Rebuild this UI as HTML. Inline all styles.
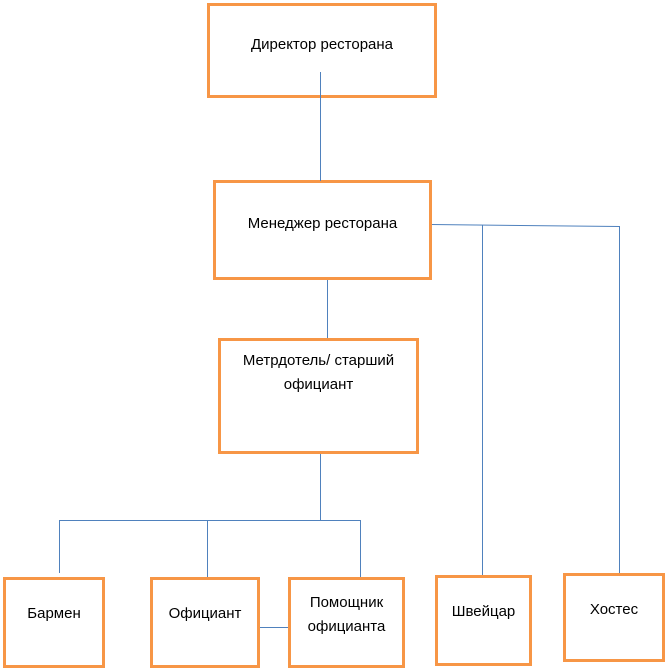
<!DOCTYPE html>
<html><head><meta charset="utf-8"><style>
body{margin:0;background:#fff;width:667px;height:672px;overflow:hidden;position:relative;font-family:"Liberation Sans",sans-serif;font-size:15px;color:#000}
.b{position:absolute;box-sizing:border-box;border:3px solid #F79646;background:#fff}
.t{position:absolute;left:0;right:0;text-align:center;line-height:24px}
svg{position:absolute;left:0;top:0}
</style></head><body>
<svg width="667" height="672">
<g stroke="#4F81BD" stroke-width="1" fill="none">
<line x1="327.5" y1="279" x2="327.5" y2="339"/>
<line x1="431" y1="224.5" x2="619" y2="226.5"/>
<line x1="482.5" y1="225" x2="482.5" y2="576"/>
<line x1="619.5" y1="226" x2="619.5" y2="574"/>
<line x1="320.5" y1="453" x2="320.5" y2="520"/>
<line x1="59" y1="520.5" x2="360" y2="520.5"/>
<line x1="59.5" y1="520" x2="59.5" y2="573"/>
<line x1="207.5" y1="520" x2="207.5" y2="578"/>
<line x1="360.5" y1="520" x2="360.5" y2="578"/>
<line x1="259" y1="627.5" x2="289" y2="627.5"/>
</g></svg>
<div class="b" style="left:207px;top:3px;width:230px;height:95px"><div class="t" style="top:27px">Директор ресторана</div></div>
<div class="b" style="left:213px;top:180px;width:219px;height:100px"><div class="t" style="top:29px">Менеджер ресторана</div></div>
<div class="b" style="left:218px;top:338px;width:201px;height:116px"><div class="t" style="top:8px">Метрдотель/ старший<br>официант</div></div>
<div class="b" style="left:3px;top:577px;width:102px;height:91px"><div class="t" style="top:22px">Бармен</div></div>
<div class="b" style="left:150px;top:577px;width:110px;height:91px"><div class="t" style="top:22px">Официант</div></div>
<div class="b" style="left:288px;top:577px;width:117px;height:91px"><div class="t" style="top:11px">Помощник<br>официанта</div></div>
<div class="b" style="left:435px;top:575px;width:97px;height:91px"><div class="t" style="top:22px">Швейцар</div></div>
<div class="b" style="left:563px;top:573px;width:102px;height:89px"><div class="t" style="top:22px">Хостес</div></div>
<svg width="667" height="672" style="pointer-events:none"><line x1="320.5" y1="72" x2="320.5" y2="181" stroke="#4F81BD" stroke-width="1"/></svg>
</body></html>
